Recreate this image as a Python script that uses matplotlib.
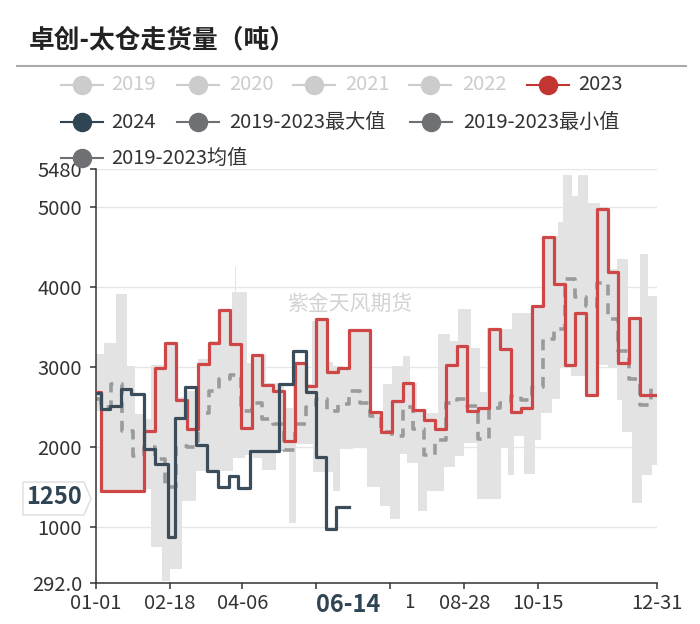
import numpy as np
import matplotlib
matplotlib.use('Agg')
import matplotlib.pyplot as plt
from matplotlib.patches import Polygon
from matplotlib.transforms import Bbox

plt.rcParams['font.family'] = ['Noto Sans CJK SC', 'DejaVu Sans']

# x values are day offsets from 01-01 (weekly data, step lines)
week_days = [0] + list(range(3, 361, 7))
y2023 = [2680, 1450, 1450, 1440, 1440, 2200, 2980, 3300, 2590, 2220, 3040, 3300, 3710,
         3290, 2230, 3150, 2770, 2700, 2070, 3050, 2760, 3600, 2930, 2980, 3460, 3460,
         2430, 2180, 2570, 2800, 2460, 2340, 2220, 3025, 3260, 2450, 2490, 3480, 3220,
         2440, 2490, 3760, 4630, 4035, 3025, 3680, 2650, 4975, 4190, 3045, 3610, 2650, 2650]
mean_19_23 = [2600, 2500, 2780, 2200, 1880, 2000, 1850, 1500, 2010, 2000, 2420, 2700, 2850,
              2900, 2450, 2550, 2350, 2280, 1960, 2280, 2500, 2600, 2450, 2540, 2700, 2550,
              2380, 2190, 2140, 2500, 2220, 1900, 2080, 2550, 2600, 2510, 2100, 2480, 2550,
              2630, 2580, 2750, 3350, 3480, 4100, 3880, 3760, 4050, 3600, 3200, 2850, 2520, 2750]

days_2024 = [0, 3, 9, 16, 23, 31, 38, 47, 51, 58, 65, 72, 79, 86, 92, 100, 119, 128, 136,
             143, 149, 156, 164]
y2024 = [2670, 2470, 2510, 2720, 2665, 1970, 1780, 870, 2360, 2750, 2020, 1700, 1500, 1630,
         1485, 1940, 2780, 3200, 2680, 1865, 970, 1240, 1240]

max_days = [0, 5, 13, 20, 25, 32, 36, 45, 52, 59, 66, 73, 80, 88, 90, 91, 98, 101, 110, 122,
            128, 136, 140, 143, 150, 154, 160, 164, 178, 186, 192, 199, 204, 208, 215, 222,
            230, 235, 243, 249, 254, 263, 270, 283, 290, 300, 303, 309, 313, 319, 327, 332,
            338, 345, 353, 358]
max_vals = [3160, 3300, 3910, 3010, 2410, 2350, 3030, 3300, 2620, 2700, 3100, 3320, 3720,
            3940, 4250, 3940, 3050, 3160, 2800, 2480, 3060, 2780, 3580, 3600, 3060, 3010,
            3000, 3470, 2450, 2790, 3010, 3140, 2800, 2470, 2420, 3410, 3330, 3720, 3240,
            2680, 3490, 3470, 3680, 3770, 4640, 4810, 5410, 5140, 5410, 5060, 5000, 4230,
            4350, 3620, 4410, 3890]
min_days = [0, 3, 31, 36, 43, 48, 56, 65, 89, 97, 102, 108, 117, 125, 130, 141, 154, 158,
            167, 176, 184, 191, 197, 202, 209, 215, 226, 233, 239, 247, 263, 267, 271, 278,
            285, 289, 296, 301, 308, 317, 326, 332, 338, 341, 348, 354, 361]
min_vals = [2450, 1440, 1470, 740, 320, 470, 1320, 1700, 1860, 1900, 1860, 1710, 1950, 1050,
            2040, 1680, 1450, 1970, 1980, 1490, 1260, 1090, 1910, 1790, 1200, 1450, 1750,
            1880, 2050, 1340, 1990, 1650, 2130, 1660, 2080, 2420, 2600, 3000, 2890, 2650,
            3030, 2990, 2580, 2180, 1300, 1640, 1770]

end_day = 364
tick_days = [0, 48, 95, 143, 191, 239, 287, 364]
tick_labels = ['01-01', '02-18', '04-06', '', '', '08-28', '10-15', '12-31']
y_ticks = [292, 1000, 2000, 3000, 4000, 5000, 5480]
y_tick_labels = ['292.0', '1000', '2000', '3000', '4000', '5000', '5480']


def step_at(days, vals, grid):
    idx = np.searchsorted(days, grid, side='right') - 1
    return np.asarray(vals)[idx]


fig = plt.figure(figsize=(7, 6.24), dpi=100)
ax = fig.add_axes([96 / 700, 41 / 624, 561 / 700, 414 / 624])

grid = np.unique(np.concatenate([max_days, min_days, [end_day]]))
hi = step_at(max_days, max_vals, grid)
lo = step_at(min_days, min_vals, grid)
ax.fill_between(grid, lo, hi, step='post', color='#e3e3e3', lw=0, zorder=1)

ax.plot(week_days + [end_day], mean_19_23 + [mean_19_23[-1]], drawstyle='steps-post',
        color='#9a9a9a', lw=2.6, dashes=(3, 2.2), zorder=2)
ax.plot(week_days + [end_day], y2023 + [y2023[-1]], drawstyle='steps-post',
        color='#cf4646', lw=2.3, zorder=3)
ax.plot(days_2024, y2024, drawstyle='steps-post', color='#3b4d5a', lw=2.3, zorder=4)

ax.set_xlim(0, end_day)
ax.set_ylim(292, 5480)
ax.set_xticks(tick_days)
ax.set_xticklabels(tick_labels)
ax.set_yticks(y_ticks)
ax.set_yticklabels(y_tick_labels)
ax.tick_params(axis='both', labelsize=14.5, colors='#333333', length=4.5, width=1.1)
ax.tick_params(axis='y', pad=5.5)
ax.tick_params(axis='x', pad=3)
for s in ['top', 'right']:
    ax.spines[s].set_visible(False)
for s in ['left', 'bottom']:
    ax.spines[s].set_color('#333333')
    ax.spines[s].set_linewidth(1.1)
ax.yaxis.grid(True, color='#e6e6e6', lw=1)
ax.set_axisbelow(True)

# overlay in pixel coordinates for title, legend and pointer labels
ov = fig.add_axes([0, 0, 1, 1])
ov.set_xlim(0, 700)
ov.set_ylim(624, 0)
ov.axis('off')

ov.text(29, 40, '卓创-太仓走货量（吨）', fontsize=18.5, fontweight='bold', color='#222222',
        va='center', ha='left')
ov.plot([17, 686], [66, 66], color='#aaaaaa', lw=1.5)

ov.text(350, 304, '紫金天风期货', fontsize=15, color='#d2d2d2', ha='center', va='center')

legend_items = [
    ('2019', '#cccccc', '#cccccc', 82, 85, 111),
    ('2020', '#cccccc', '#cccccc', 198, 85, 229),
    ('2021', '#cccccc', '#cccccc', 314, 85, 345),
    ('2022', '#cccccc', '#cccccc', 430, 85, 462),
    ('2023', '#c23531', '#333333', 548, 85, 578),
    ('2024', '#2f4554', '#333333', 82, 122, 111),
    ('2019-2023最大值', '#6e7074', '#333333', 198, 122, 229),
    ('2019-2023最小值', '#6e7074', '#333333', 431, 122, 463),
    ('2019-2023均值', '#6e7074', '#333333', 82, 158, 111),
]
for label, mc, tc, cx, cy, tx in legend_items:
    ov.plot([cx - 21, cx + 21], [cy, cy], color=mc, lw=1.5)
    ov.plot([cx], [cy], 'o', color=mc, ms=13)
    ov.text(tx, cy, label, fontsize=14.5, color=tc, ha='left', va='center')

# 07-11 tick label is mostly hidden behind the 06-14 pointer label (display px box)
t = ov.text(390, 603, '07-11', fontsize=14.5, color='#333333', ha='center', va='center')
t.set_clip_box(Bbox.from_extents(407, 0, 480, 40))
t.set_clip_on(True)

# axis pointer labels
ov.text(348, 605, '06-14', fontsize=17, fontweight='bold', color='#2f4554',
        ha='center', va='center')
ov.add_patch(Polygon([(23, 482), (84, 482), (91, 498.5), (84, 515), (23, 515)],
                     closed=True, fc='white', ec='#dddddd', lw=1))
ov.text(54.5, 497, '1250', fontsize=17, fontweight='bold', color='#2f4554',
        ha='center', va='center')

fig.savefig('out.png', dpi=100)
